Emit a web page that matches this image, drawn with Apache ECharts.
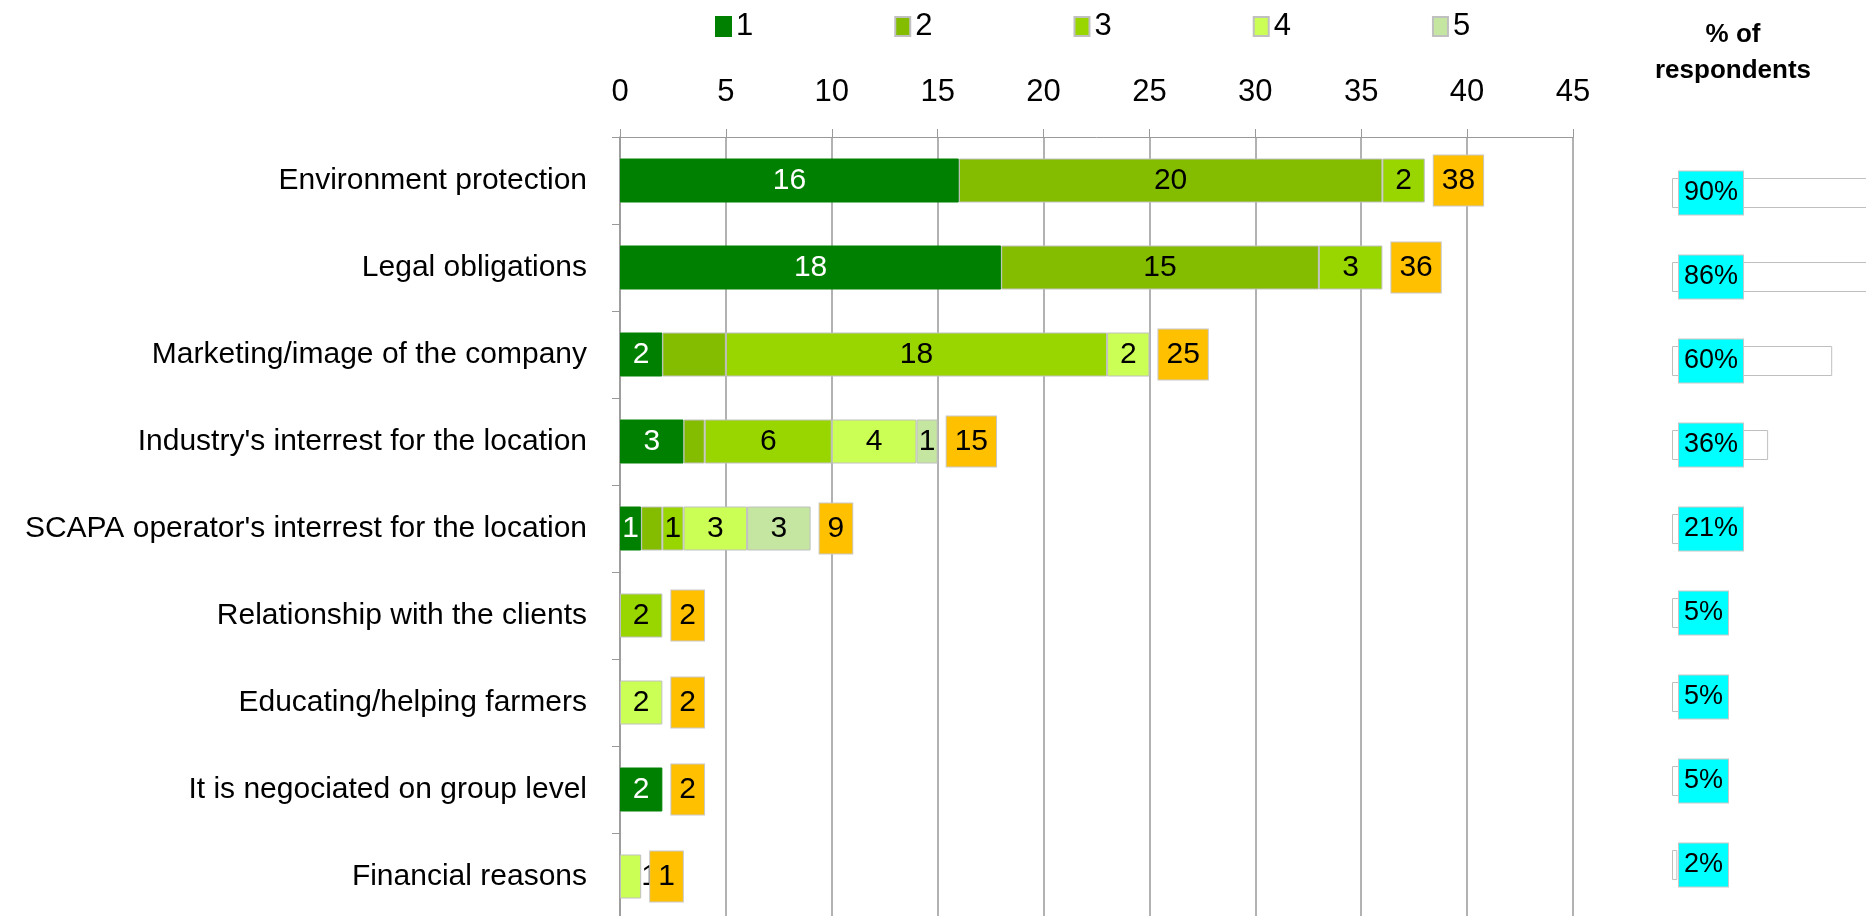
<!DOCTYPE html>
<html>
<head>
<meta charset="utf-8">
<script src="https://cdn.jsdelivr.net/npm/echarts@6/dist/echarts.min.js"></script>
<style>
  html, body { margin: 0; padding: 0; background: #fff; }
  #chart { width: 1866px; height: 916px; }
</style>
</head>
<body>
<div id="chart"></div>
<script>
// reasons, top to bottom
var categories = [
  'Environment protection',
  'Legal obligations',
  'Marketing/image of the company',
  "Industry's interrest for the location",
  "SCAPA operator's interrest for the location",
  'Relationship with the clients',
  'Educating/helping farmers',
  'It is negociated on group level',
  'Financial reasons'
];
var seriesNames = ['1', '2', '3', '4', '5'];
var rank1 = [16, 18, 2, 3, 1, 0, 0, 2, 0];
var rank2 = [20, 15, 3, 1, 1, 0, 0, 0, 0];
var rank3 = [2, 3, 18, 6, 1, 2, 0, 0, 0];
var rank4 = [0, 0, 2, 4, 3, 0, 2, 0, 1];
var rank5 = [0, 0, 0, 1, 3, 0, 0, 0, 0];
var totals = [38, 36, 25, 15, 9, 2, 2, 2, 1];
var percents = [90, 86, 60, 36, 21, 5, 5, 5, 2];

var FONT = '"Liberation Sans", Arial, sans-serif';
var colors = ['#008000', '#84bd00', '#99d600', '#ccff55', '#c4e6a0'];
var ranks = [rank1, rank2, rank3, rank4, rank5];
// labels that were removed in the original (rank 2 on small bars)
var hiddenLabels = { 1: [2, 3, 4] };
// labels that sit to the right of a too-thin segment
var sideLabels = { 3: [8] };

var myChart = echarts.init(document.getElementById('chart'));
var option;

var series = [];
for (var s = 0; s < ranks.length; s++) {
  var data = [];
  for (var i = 0; i < ranks[s].length; i++) {
    var v = ranks[s][i];
    if (!v) { data.push('-'); continue; }
    var item = { value: v };
    if (hiddenLabels[s] && hiddenLabels[s].indexOf(i) >= 0) {
      item.label = { show: false };
    }
    if (sideLabels[s] && sideLabels[s].indexOf(i) >= 0) {
      item.label = { position: 'right', distance: 0 };
    }
    data.push(item);
  }
  series.push({
    name: seriesNames[s],
    type: 'bar',
    stack: 'rank',
    barWidth: 44,
    xAxisIndex: 0,
    yAxisIndex: 0,
    data: data,
    itemStyle: {
      color: colors[s],
      borderColor: s === 0 ? colors[0] : '#c0c0c0',
      borderWidth: 1
    },
    label: {
      show: true,
      position: 'inside',
      fontFamily: FONT,
      fontSize: 30,
      color: s === 0 ? '#fff' : '#000'
    }
  });
}

// totals, drawn as an invisible bar carrying the orange label
series.push({
  name: 'total',
  type: 'bar',
  barWidth: 44,
  barGap: '-100%',
  xAxisIndex: 0,
  yAxisIndex: 0,
  z: 5,
  silent: true,
  data: totals,
  itemStyle: { color: 'rgba(0,0,0,0)' },
  label: {
    show: true,
    position: 'right',
    distance: 9,
    fontFamily: FONT,
    fontSize: 30,
    lineHeight: 32,
    color: '#000',
    backgroundColor: '#ffc000',
    borderColor: '#c8c8c8',
    borderWidth: 1,
    padding: [10, 8, 8, 8]
  }
});

// % of respondents
series.push({
  name: 'pct',
  type: 'bar',
  barWidth: 30,
  xAxisIndex: 1,
  yAxisIndex: 1,
  silent: true,
  data: percents,
  itemStyle: {
    color: '#fff',
    borderColor: '#bfbfbf',
    borderWidth: 1
  },
  label: {
    show: true,
    position: 'insideLeft',
    distance: 7,
    formatter: '{c}%',
    fontFamily: FONT,
    fontSize: 27,
    lineHeight: 28,
    color: '#000',
    backgroundColor: '#00ffff',
    borderColor: '#c8c8c8',
    borderWidth: 1,
    padding: [9, 5, 6, 5]
  }
});

option = {
  animation: false,
  textStyle: { fontFamily: FONT },
  title: {
    text: '% of\nrespondents',
    left: 1728,
    top: 12,
    textAlign: 'center',
    textStyle: {
      fontFamily: FONT,
      fontSize: 26,
      fontWeight: 'bold',
      lineHeight: 36,
      color: '#000'
    }
  },
  legend: {
    data: seriesNames,
    left: 710,
    top: 6,
    icon: 'rect',
    itemWidth: 15,
    itemHeight: 19,
    itemGap: 141,
    textStyle: { fontFamily: FONT, fontSize: 31, color: '#000' }
  },
  grid: [
    { left: 620, width: 953, top: 137, bottom: -4, outerBoundsMode: 'none', containLabel: false },
    { left: 1672, width: 267, top: 151, bottom: 9, outerBoundsMode: 'none', containLabel: false }
  ],
  xAxis: [
    {
      gridIndex: 0,
      type: 'value',
      position: 'top',
      min: 0,
      max: 45,
      interval: 5,
      axisLine: { show: true, lineStyle: { color: '#999' } },
      axisTick: { show: true, length: 8, lineStyle: { color: '#999' } },
      splitLine: { show: true, lineStyle: { color: '#999', width: 1.5 } },
      axisLabel: { fontFamily: FONT, fontSize: 31, color: '#000', margin: 29 }
    },
    {
      gridIndex: 1,
      type: 'value',
      min: 0,
      max: 100,
      show: false
    }
  ],
  yAxis: [
    {
      gridIndex: 0,
      type: 'category',
      inverse: true,
      data: categories,
      axisLine: { show: true, lineStyle: { color: '#999', width: 1.5 } },
      axisTick: { show: true, length: 8, lineStyle: { color: '#999' } },
      axisLabel: { fontFamily: FONT, fontSize: 30, color: '#000', margin: 33 }
    },
    {
      gridIndex: 1,
      type: 'category',
      inverse: true,
      data: categories,
      show: false
    }
  ],
  series: series
};
option && myChart.setOption(option);
</script>
</body>
</html>
